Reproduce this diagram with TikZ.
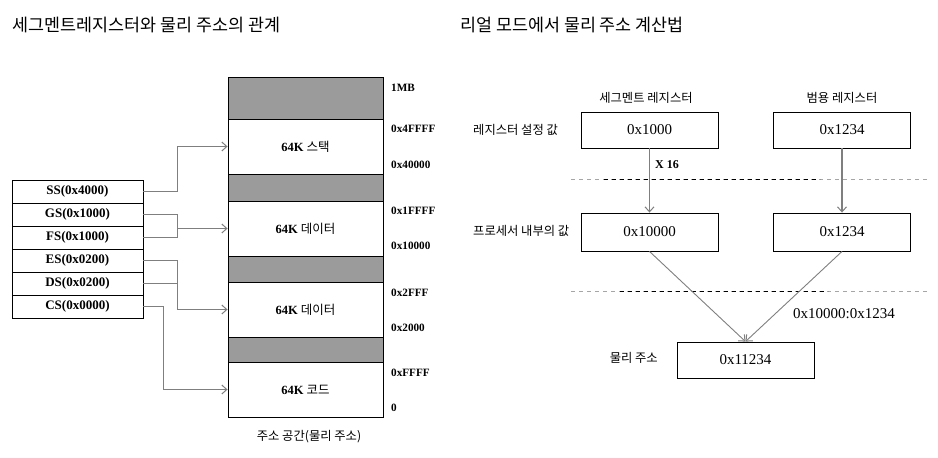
\documentclass[tikz,border=0pt]{standalone}
\usepackage{fontspec}
\setmainfont{Liberation Serif}
\newfontfamily\kr{Noto Sans CJK KR}
\usetikzlibrary{arrows.meta}
\definecolor{blockgray}{HTML}{9B9B9B}
\definecolor{linegray}{HTML}{7F7F7F}
\definecolor{dashgray}{HTML}{A6A6A6}
\begin{document}
\begin{tikzpicture}[x=1pt,y=-1pt,
  reg/.style={draw, line width=0.9pt, minimum width=131pt, minimum height=23pt, inner sep=0pt, font=\fontsize{13}{15}\selectfont\bfseries},
  memwhite/.style={draw, line width=0.9pt, fill=white, minimum width=155pt, inner sep=0pt, font=\fontsize{12.5}{14}\selectfont\bfseries},
  memgray/.style={draw, line width=0.9pt, fill=blockgray, minimum width=155pt, inner sep=0pt},
  addr/.style={anchor=west, inner sep=0pt, font=\fontsize{11.2}{13}\selectfont\bfseries},
  valbox/.style={draw, line width=0.9pt, minimum width=137pt, minimum height=36pt, inner sep=0pt, font=\fontsize{15}{17}\selectfont},
  krlabel/.style={inner sep=0pt, font=\kr\fontsize{12.3}{14}\selectfont},
  title/.style={anchor=west, inner sep=0pt, font=\kr\fontsize{17.4}{19}\selectfont},
  conn/.style={draw=linegray, line width=1.1pt},
  tip/.style={-{Straight Barb[length=5pt,width=9pt,line width=1pt]}},
  sep/.style={dashgray, line width=1pt, dash pattern=on 4pt off 4pt},
  sepdark/.style={black, line width=1pt, dash pattern=on 4pt off 4pt}
]
\useasboundingbox (0,0) rectangle (938,458);

% titles
\node[title] (t1) at (12,25) {세그멘트레지스터와 물리 주소의 관계};
\node[title] (t2) at (460,25) {리얼 모드에서 물리 주소 계산법};

% registers
\node[reg] (ss) at (77.5,191.5) {SS(0x4000)};
\node[reg] (gs) at (77.5,214.5) {GS(0x1000)};
\node[reg] (fs) at (77.5,237.5) {FS(0x1000)};
\node[reg] (es) at (77.5,260.5) {ES(0x0200)};
\node[reg] (ds) at (77.5,283.5) {DS(0x0200)};
\node[reg] (cs) at (77.5,306.5) {CS(0x0000)};

% memory
\node[memgray, minimum height=42pt] (g1) at (305.5,98) {};
\node[memwhite, minimum height=55pt] (stack) at (305.5,146.5) {64K {\kr\mdseries 스택}};
\node[memgray, minimum height=27pt] (g2) at (305.5,187.5) {};
\node[memwhite, minimum height=55pt] (data1) at (305.5,228.5) {64K {\kr\mdseries 데이터}};
\node[memgray, minimum height=26pt] (g3) at (305.5,269) {};
\node[memwhite, minimum height=55pt] (data2) at (305.5,309.5) {64K {\kr\mdseries 데이터}};
\node[memgray, minimum height=25pt] (g4) at (305.5,349.5) {};
\node[memwhite, minimum height=55pt] (code) at (305.5,389.5) {64K {\kr\mdseries 코드}};

% addresses
\node[addr] (a1) at (391,88) {1MB};
\node[addr] (a2) at (391,129) {0x4FFFF};
\node[addr] (a3) at (391,165) {0x40000};
\node[addr] (a4) at (391,211) {0x1FFFF};
\node[addr] (a5) at (391,246) {0x10000};
\node[addr] (a6) at (391,293) {0x2FFF};
\node[addr] (a7) at (391,328) {0x2000};
\node[addr] (a8) at (391,373) {0xFFFF};
\node[addr] (a9) at (391,408) {0};
\node[krlabel] (cap) at (309,437) {주소 공간(물리 주소)};

% connectors left
\draw[conn,tip] (ss.east) -- ++(34,0) |- (stack.west);
\draw[conn] (gs.east) -- ++(34,0) coordinate (gj) -- (gj |- fs.east) -- (fs.east);
\draw[conn,tip] (gj |- data1.west) -- (data1.west);
\draw[conn,tip] (es.east) -- ++(34,0) |- (data2.west);
\draw[conn] (ds.east) -- ++(34,0);
\draw[conn,tip] (cs.east) -- ++(20,0) |- (code.west);

% right part
\node[krlabel] (h1) at (646,98) {세그멘트 레지스터};
\node[krlabel] (h2) at (842,98) {범용 레지스터};
\node[krlabel, anchor=west] (r1) at (473,130) {레지스터 설정 값};
\node[krlabel, anchor=west] (r2) at (473,231) {프로세서 내부의 값};
\node[krlabel, anchor=east] (r3) at (658,358) {물리 주소};

\node[valbox] (seg1) at (649.5,130) {0x1000};
\node[valbox] (gen1) at (842,130) {0x1234};
\node[valbox, minimum height=38pt] (seg2) at (649.5,232) {0x10000};
\node[valbox, minimum height=38pt] (gen2) at (842,232) {0x1234};
\node[valbox] (res) at (745.5,360) {0x11234};

\node[anchor=west, inner sep=0pt, font=\fontsize{12}{14}\selectfont\bfseries] (x16) at (655,165) {X 16};
\node[anchor=west, inner sep=0pt, font=\fontsize{15}{17}\selectfont] (sum) at (793,314) {0x10000:0x1234};

\coordinate (d1a) at (571,179); \coordinate (d1b) at (927,179);
\coordinate (d1c) at (604,179); \coordinate (d1d) at (820,179);
\coordinate (d2a) at (571,291); \coordinate (d2b) at (927,291);
\coordinate (d2c) at (620,291); \coordinate (d2d) at (828,291);
\draw[sep] (d1a) -- (d1b);
\draw[sepdark] (d1c) -- (d1d);
\draw[sep] (d2a) -- (d2b);
\draw[sepdark] (d2c) -- (d2d);

\draw[conn,tip] (seg1.south) -- (seg2.north);
\draw[conn,tip] (gen1.south) -- (gen2.north);
\draw[conn,tip,line width=0.9pt] (seg2.south) -- (res.north);
\draw[conn,tip,line width=0.9pt] (gen2.south) -- (res.north);
\end{tikzpicture}
\end{document}
